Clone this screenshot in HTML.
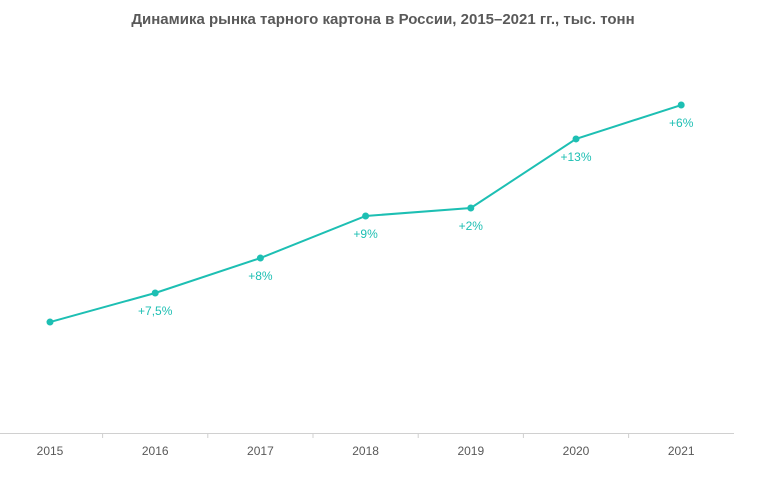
<!DOCTYPE html>
<html><head><meta charset="utf-8">
<style>
html,body{margin:0;padding:0;background:#fff;}
svg{display:block;font-family:"Liberation Sans","DejaVu Sans",sans-serif;}
</style></head>
<body>
<svg id="chart" width="766" height="478" viewBox="0 0 766 478">
  <text x="383" y="24" text-anchor="middle" font-size="15" font-weight="bold" fill="#595959">Динамика рынка тарного картона в России, 2015–2021 гг., тыс. тонн</text>
  <line x1="0" y1="433.5" x2="734" y2="433.5" stroke="#d0d0d0" stroke-width="1"/>
  <g id="ticks"></g>
  <g id="series"></g>
</svg>
<script>
const categories = ["2015","2016","2017","2018","2019","2020","2021"];
const values = [3000, 3225, 3496, 3822, 3884, 4419, 4682];
const growthLabels = ["", "+7,5%", "+8%", "+9%", "+2%", "+13%", "+6%"];

const NS = "http://www.w3.org/2000/svg";
const svg = document.getElementById("chart");
const ticksG = document.getElementById("ticks");
const seriesG = document.getElementById("series");
const step = 105.2, x0 = 50;
function xScale(i){ return x0 + i*step; }
const vMin = 2140, vMax = 5496, yBottom = 433, yTop = 0;
function yScale(v){ return yBottom - (v - vMin)/(vMax - vMin)*(yBottom - yTop); }
const color = "#1dbfb3";

for (let i = 0; i < categories.length; i++) {
  const t = document.createElementNS(NS, "text");
  t.setAttribute("x", xScale(i));
  t.setAttribute("y", 455);
  t.setAttribute("text-anchor", "middle");
  t.setAttribute("font-size", "12");
  t.setAttribute("fill", "#595959");
  t.textContent = categories[i];
  
  
  ticksG.appendChild(t);
  if (i < categories.length - 1) {
    const tk = document.createElementNS(NS, "line");
    const tx = xScale(i) + step/2;
    tk.setAttribute("x1", tx); tk.setAttribute("x2", tx);
    tk.setAttribute("y1", 433); tk.setAttribute("y2", 438);
    tk.setAttribute("stroke", "#d0d0d0");
    
    
    ticksG.appendChild(tk);
  }
}

const pts = values.map((v, i) => xScale(i) + "," + yScale(v)).join(" ");
const line = document.createElementNS(NS, "polyline");
line.setAttribute("points", pts);
line.setAttribute("fill", "none");
line.setAttribute("stroke", color);
line.setAttribute("stroke-width", "2");


seriesG.appendChild(line);

values.forEach((v, i) => {
  const c = document.createElementNS(NS, "circle");
  c.setAttribute("cx", xScale(i));
  c.setAttribute("cy", yScale(v));
  c.setAttribute("r", 3.5);
  c.setAttribute("fill", color);
  
  
  seriesG.appendChild(c);
  if (growthLabels[i]) {
    const t = document.createElementNS(NS, "text");
    t.setAttribute("x", xScale(i));
    t.setAttribute("y", yScale(v) + 22);
    t.setAttribute("text-anchor", "middle");
    t.setAttribute("font-size", "12");
    t.setAttribute("fill", color);
    t.textContent = growthLabels[i];
    
    
    seriesG.appendChild(t);
  }
});
</script>
</body></html>
